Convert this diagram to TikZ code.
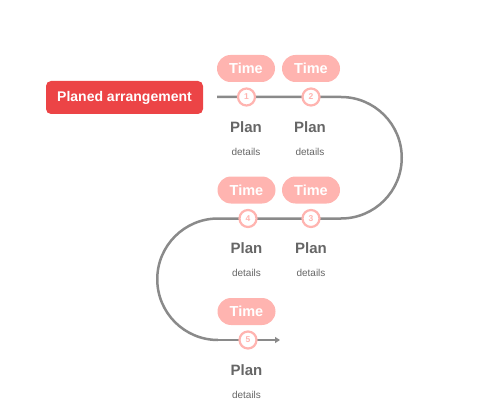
\documentclass[tikz,border=0pt]{standalone}
\usepackage{fontspec}
\setmainfont{Liberation Sans}
\usetikzlibrary{arrows.meta}
\definecolor{redbox}{HTML}{EC4446}
\definecolor{pinkc}{HTML}{FFB4B0}
\definecolor{linegray}{HTML}{8A8A8A}
\definecolor{textgray}{HTML}{666666}
\tikzset{
  pill/.style={fill=pinkc, text=white, rounded corners=13.5pt, minimum width=58pt, minimum height=27pt, inner sep=0pt, font=\fontsize{14.5}{14.5}\selectfont\bfseries},
  numdot/.style={circle, draw=pinkc, line width=2.2pt, fill=white, minimum size=17pt, inner sep=0pt, text=pinkc, font=\fontsize{8.5}{8.5}\selectfont\bfseries},
  plantxt/.style={text=textgray, font=\fontsize{15}{15}\selectfont\bfseries},
  dettxt/.style={text=textgray, font=\fontsize{10}{10}\selectfont},
  track/.style={draw=linegray, line width=2.5pt},
}
\begin{document}
\begin{tikzpicture}[x=1pt,y=-1pt]
\useasboundingbox (0,0) rectangle (480,420);
\node[fill=redbox, text=white, rounded corners=5pt, minimum width=157pt, minimum height=33pt, inner sep=0pt, font=\fontsize{14}{14}\selectfont\bfseries] (title) at (124.5,97.5) {Planed arrangement};
\coordinate (start) at (217,97);
\coordinate (r1) at (341,97);
\coordinate (r2) at (341,218.5);
\coordinate (l1) at (218,218.5);
\coordinate (l2) at (218,340);
\coordinate (endp) at (280,340);
\draw[track] (start) -- (r1) arc[start angle=-90, end angle=90, radius=60.75] -- (l1) arc[start angle=270, end angle=90, radius=60.75] -- (l2);
\draw[draw=linegray, line width=2.5pt, -{Triangle[length=5pt,width=6pt]}] (l2) -- (endp);
% row 1
\node[pill] (t1) at (246,68.5) {Time};
\node[pill] (t2) at (311,68.5) {Time};
\node[numdot] (c1) at (246.5,97) {1};
\node[numdot] (c2) at (311,97) {2};
\node[plantxt] (p1) at (246,127) {Plan};
\node[plantxt] (p2) at (310,127) {Plan};
\node[dettxt] (d1) at (246,152) {details};
\node[dettxt] (d2) at (310,152) {details};
% row 2
\node[pill] (t4) at (246.5,190) {Time};
\node[pill] (t3) at (311,190) {Time};
\node[numdot] (c4) at (248,218.5) {4};
\node[numdot] (c3) at (311,218.5) {3};
\node[plantxt] (p4) at (246.5,248.5) {Plan};
\node[plantxt] (p3) at (311,248.5) {Plan};
\node[dettxt] (d4) at (246.5,273) {details};
\node[dettxt] (d3) at (311,273) {details};
% row 3
\node[pill] (t5) at (246.5,311.5) {Time};
\node[numdot] (c5) at (248,340) {5};
\node[plantxt] (p5) at (246.5,370) {Plan};
\node[dettxt] (d5) at (246.5,395) {details};
\end{tikzpicture}
\end{document}
